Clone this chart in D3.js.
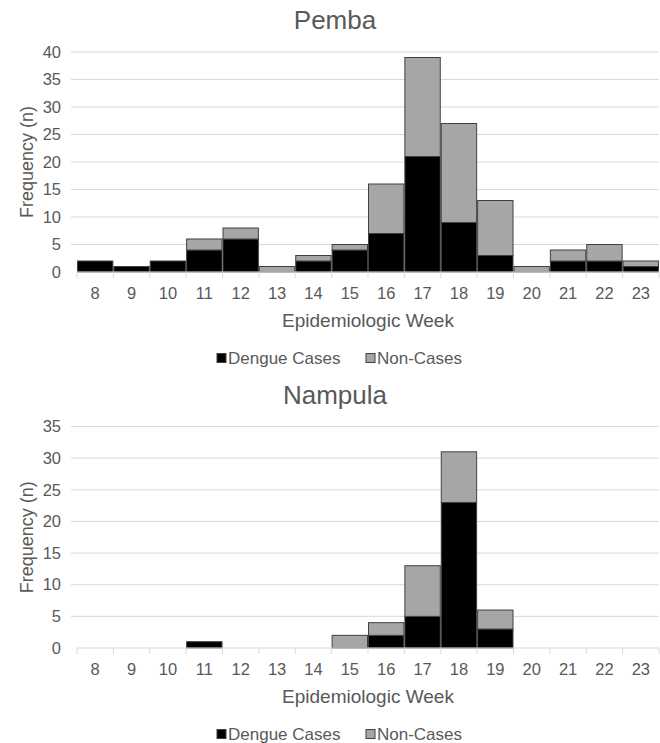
<!DOCTYPE html>
<html>
<head>
<meta charset="utf-8">
<script src="https://cdn.jsdelivr.net/npm/d3@7.9.0/dist/d3.min.js"></script>
<style>
  body { margin: 0; background: #fff; }
  svg { display: block; font-family: "Liberation Sans", Arial, sans-serif; }
</style>
</head>
<body>
<svg id="chart" width="660" height="743"></svg>
<script>
// weeks and counts
const weeks = [8, 9, 10, 11, 12, 13, 14, 15, 16, 17, 18, 19, 20, 21, 22, 23];
const pembaDengue = [2, 1, 2, 4, 6, 0, 2, 4, 7, 21, 9, 3, 0, 2, 2, 1];
const pembaNon = [0, 0, 0, 2, 2, 1, 1, 1, 9, 18, 18, 10, 1, 2, 3, 1];
const nampulaDengue = [0, 0, 0, 1, 0, 0, 0, 0, 2, 5, 23, 3, 0, 0, 0, 0];
const nampulaNon = [0, 0, 0, 0, 0, 0, 0, 2, 2, 8, 8, 3, 0, 0, 0, 0];
const pembaTicks = [0, 5, 10, 15, 20, 25, 30, 35, 40];
const nampulaTicks = [0, 5, 10, 15, 20, 25, 30, 35];
const seriesNames = ['Dengue Cases', 'Non-Cases'];
const seriesColors = ['#000000', '#a6a6a6'];

const textColor = '#595959';
const gridColor = '#d9d9d9';

const svg = d3.select('#chart');

function drawPanel(title, dengue, non, ticks, top, bottom) {
  const left = 77, right = 659;
  const g = svg.append('g');

  const x = d3.scaleBand().domain(weeks).range([left, right]).padding(0);
  const y = d3.scaleLinear().domain([0, d3.max(ticks)]).range([bottom, top]);

  // gridlines
  g.selectAll('.grid')
    .data(ticks.filter(t => t > 0))
    .join('line')
    .attr('x1', left - 6).attr('x2', right)
    .attr('y1', d => y(d)).attr('y2', d => y(d))
    .attr('stroke', gridColor).attr('stroke-width', 1);

  // y tick labels
  g.selectAll('.ytick')
    .data(ticks)
    .join('text')
    .attr('x', left - 16)
    .attr('y', d => y(d))
    .attr('dy', '0.35em')
    .attr('text-anchor', 'end')
    .attr('font-size', 16.5)
    .attr('fill', textColor)
    .text(d => d);

  // stacked bars
  const rows = weeks.map((w, i) => ({ week: w, dengue: dengue[i], non: non[i] }));
  const stacked = d3.stack().keys(['dengue', 'non'])(rows);

  stacked.forEach((layer, k) => {
    g.append('g')
      .selectAll('rect')
      .data(layer.filter(d => d[1] - d[0] > 0))
      .join('rect')
      .attr('x', d => x(d.data.week) + 0.5)
      .attr('width', x.bandwidth() - 1)
      .attr('y', d => y(d[1]))
      .attr('height', d => y(d[0]) - y(d[1]))
      .attr('fill', seriesColors[k])
      .attr('stroke', '#404040')
      .attr('stroke-width', 1);
  });

  // x axis line and ticks
  g.append('line')
    .attr('x1', left).attr('x2', right)
    .attr('y1', bottom).attr('y2', bottom)
    .attr('stroke', gridColor).attr('stroke-width', 1);

  const bounds = weeks.map(w => x(w)).concat([right]);
  g.selectAll('.xtick')
    .data(bounds)
    .join('line')
    .attr('x1', d => d).attr('x2', d => d)
    .attr('y1', bottom).attr('y2', bottom + 6)
    .attr('stroke', gridColor).attr('stroke-width', 1);

  g.selectAll('.xlabel')
    .data(weeks)
    .join('text')
    .attr('x', d => x(d) + x.bandwidth() / 2)
    .attr('y', bottom + 21)
    .attr('dy', '0.35em')
    .attr('text-anchor', 'middle')
    .attr('font-size', 16.5)
    .attr('fill', textColor)
    .text(d => d);

  // titles
  g.append('text')
    .attr('x', 335).attr('y', top - 32)
    .attr('dy', '0.35em')
    .attr('text-anchor', 'middle')
    .attr('font-size', 26)
    .attr('fill', textColor)
    .text(title);

  g.append('text')
    .attr('x', (left + right) / 2).attr('y', bottom + 48)
    .attr('dy', '0.35em')
    .attr('text-anchor', 'middle')
    .attr('font-size', 19)
    .attr('fill', textColor)
    .text('Epidemiologic Week');

  g.append('text')
    .attr('transform', `translate(27,${(top + bottom) / 2}) rotate(-90)`)
    .attr('dy', '0.35em')
    .attr('text-anchor', 'middle')
    .attr('font-size', 18)
    .attr('fill', textColor)
    .text('Frequency (n)');

  // legend
  const ly = bottom + 86;
  const legendX = [217, 366];
  seriesNames.forEach((name, i) => {
    g.append('rect')
      .attr('x', legendX[i]).attr('y', ly - 4.5)
      .attr('width', 9).attr('height', 9)
      .attr('fill', seriesColors[i])
      .attr('stroke', '#404040').attr('stroke-width', 1);
    g.append('text')
      .attr('x', legendX[i] + 11).attr('y', ly)
      .attr('dy', '0.35em')
      .attr('font-size', 17)
      .attr('fill', textColor)
      .text(name);
  });
}

drawPanel('Pemba', pembaDengue, pembaNon, pembaTicks, 52, 272);
drawPanel('Nampula', nampulaDengue, nampulaNon, nampulaTicks, 426.5, 648);
</script>
</body>
</html>
